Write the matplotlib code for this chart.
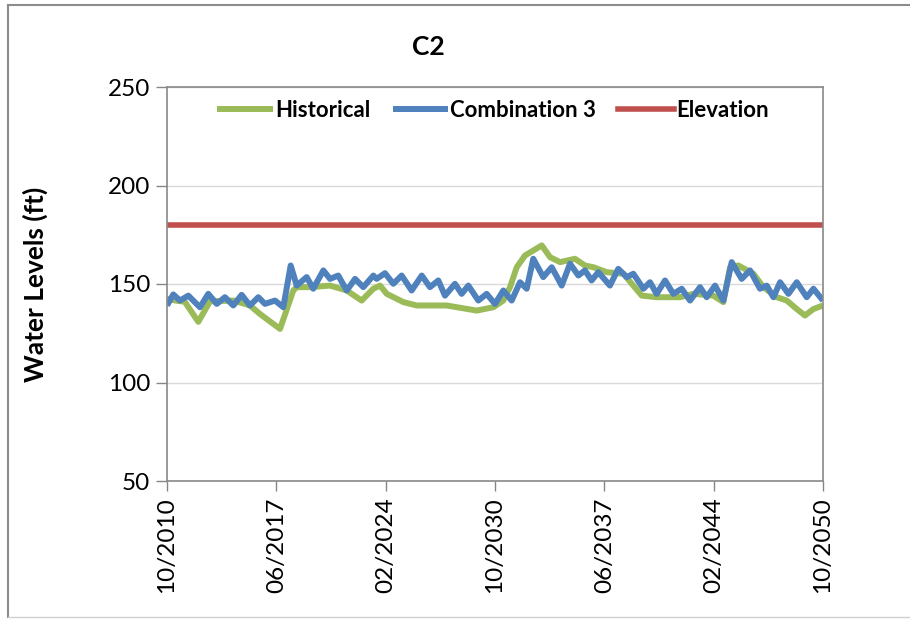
import matplotlib
matplotlib.use("Agg")
import matplotlib.pyplot as plt
from matplotlib.lines import Line2D

plt.rcParams['font.family'] = ['Lato', 'DejaVu Sans']

# ---- data (x = months since 10/2010) ----
hist_months = [0, 7, 13, 22.9, 31.5, 48.5, 60.7, 68, 82.7, 92.4, 94.9, 105, 119.3,
               131.5, 142.4, 151, 155.9, 160.8, 173, 182.7, 204.6, 226.6, 238.8,
               246.1, 251, 255.9, 262, 268, 274.2, 280.3, 287.6, 298.5, 305.8, 312,
               321.8, 334, 340.1, 347.4, 358.3, 375.4, 385.1, 399.7, 407.1, 412,
               418.1, 429.1, 436.4, 446.2, 453.5, 460.8, 466.8, 473, 480]
hist_values = [142.5, 141.5, 141.0, 130.8, 141.2, 141.6, 139.1, 134.8, 127.2, 146.7,
               148.4, 148.4, 149.2, 146.7, 141.6, 147.6, 149.2, 145.0, 140.8, 139.1,
               139.1, 136.5, 138.2, 141.6, 148.4, 158.5, 164.5, 167.0, 169.6, 163.6,
               161.1, 162.8, 159.4, 158.5, 156.0, 155.2, 150.1, 144.1, 143.3, 143.3,
               145.0, 144.1, 140.8, 158.5, 159.4, 155.2, 148.4, 143.3, 141.6, 137.3,
               134.0, 137.3, 139.1]

comb_months = [0, 4.6, 9.5, 15.6, 24.1, 30.2, 36.4, 42.4, 48.5, 54.6, 60.7, 66.8,
               71.7, 79, 85.1, 90.5, 94.9, 102.2, 107, 114.4, 119.3, 125.3, 131.5,
               137.6, 143.6, 151, 153.4, 159.5, 165.6, 171.7, 179, 186.4, 192.4,
               198.5, 203.4, 210.7, 215.6, 220.5, 227.8, 233.9, 240, 246.1, 252.2,
               258.3, 263.2, 268, 275.3, 281.5, 288.8, 294.9, 301, 305.8, 310.7,
               315.6, 324.1, 330.2, 336.4, 341.2, 348.6, 353.4, 358.3, 364.4, 370.5,
               376.6, 382.7, 390, 394.9, 401, 407.1, 413.2, 420.5, 426.6, 433.9,
               438.8, 443.7, 448.6, 454.7, 460.8, 468.1, 473, 480]
comb_values = [139.1, 144.7, 141.6, 144.1, 138.2, 145.0, 139.9, 143.3, 139.1, 144.5,
               139.1, 143.3, 139.9, 141.6, 138.2, 159.4, 149.2, 153.5, 147.6, 156.9,
               152.6, 154.3, 146.7, 152.6, 148.4, 154.3, 152.6, 155.5, 150.1, 154.3,
               146.7, 154.3, 148.4, 151.8, 144.1, 150.1, 145.0, 149.2, 141.6, 145.0,
               139.9, 146.7, 141.6, 150.9, 147.6, 162.8, 153.5, 158.5, 149.2, 160.3,
               154.3, 156.9, 151.8, 156.0, 149.2, 157.7, 153.5, 155.2, 147.6, 150.9,
               145.0, 151.8, 145.0, 147.6, 141.6, 148.4, 143.3, 149.2, 141.6, 161.1,
               152.6, 156.9, 147.6, 149.2, 143.3, 150.9, 145.0, 150.9, 143.3, 147.6,
               141.6]

elev_months = [0, 480]
elev_values = [180, 180]

tick_months = [0, 80, 160, 240, 320, 400, 480]
tick_labels = ['10/2010', '06/2017', '02/2024', '10/2030', '06/2037', '02/2044', '10/2050']
y_ticks = [50, 100, 150, 200, 250]

# ---- figure ----
fig = plt.figure(figsize=(9.1, 6.19), dpi=100)
ax = fig.add_axes([167/910, 1-481/619, (823-167)/910, (481-87)/619])

ax.plot(hist_months, hist_values, color='#9BBB59', lw=4.3, label='Historical',
        solid_joinstyle='round', solid_capstyle='butt')
ax.plot(comb_months, comb_values, color='#4F81BD', lw=4.3, label='Combination 3',
        solid_joinstyle='round', solid_capstyle='butt')
ax.plot(elev_months, elev_values, color='#C0504D', lw=4.0, label='Elevation')

ax.set_xlim(0, 480)
ax.set_ylim(50, 250)
ax.set_xticks(tick_months)
ax.set_xticklabels(tick_labels, rotation=90, fontsize=17.5)
ax.set_yticks(y_ticks)
ax.tick_params(axis='y', labelsize=17.5, direction='out', length=8, width=1, color='#868686', pad=4)
ax.tick_params(axis='x', direction='out', length=7, width=1, color='#868686', pad=5)

ax.grid(axis='y', color='#D9D9D9', lw=1)
ax.set_axisbelow(True)
for s in ax.spines.values():
    s.set_color('#898989')
    s.set_linewidth(1.2)

ax.set_ylabel('Water Levels (ft)', fontsize=19, fontweight='bold')
ax.yaxis.set_label_coords((48-167)/656, 0.5)
fig.text(428/910, 1-47/619, 'C2', ha='center', va='center', fontsize=19, fontweight='bold')

leg = ax.legend(loc='center', bbox_to_anchor=(0.497, 0.94), ncol=3, frameon=False,
                handlelength=2.5, handletextpad=0.1, columnspacing=1.0,
                prop={'weight': 'bold', 'size': 16})

# chart area border
fig.add_artist(Line2D([8/910, 1], [1-5/619, 1-5/619], color='#8C8C8C', lw=1.5))
fig.add_artist(Line2D([8/910, 8/910], [1-5/619, 1-617/619], color='#8C8C8C', lw=1.5))
fig.add_artist(Line2D([8/910, 1], [1-617/619, 1-617/619], color='#D0D0D0', lw=1.0))

fig.savefig('out.png', dpi=100)
